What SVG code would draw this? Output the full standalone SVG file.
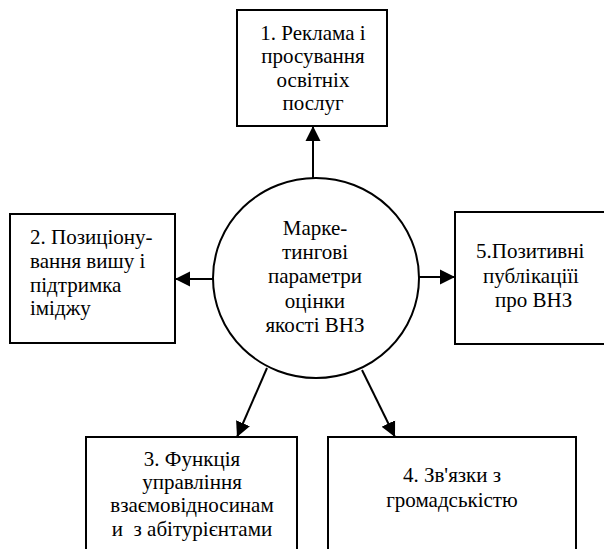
<svg xmlns="http://www.w3.org/2000/svg" width="604" height="549" viewBox="0 0 604 549">
<style>
.box{fill:#fff;stroke:#000;stroke-width:2}
.conn{stroke:#000;stroke-width:2;fill:none}
</style>
<defs>
<marker id="ah" markerUnits="userSpaceOnUse" markerWidth="16" markerHeight="16" refX="15" refY="7.5" orient="auto" viewBox="0 0 16 15">
<path d="M0,0 L15,7.5 L0,15 z" fill="#000"/>
</marker>
</defs>
<rect width="604" height="549" fill="#fff"/>
<g id="connectors">
<line class="conn" x1="313" y1="179" x2="313" y2="126" marker-end="url(#ah)"/>
<line class="conn" x1="213" y1="279" x2="175" y2="279" marker-end="url(#ah)"/>
<line class="conn" x1="419" y1="277" x2="455" y2="277" marker-end="url(#ah)"/>
<line class="conn" x1="267" y1="368" x2="237" y2="437" marker-end="url(#ah)"/>
<line class="conn" x1="362" y1="370" x2="395" y2="437" marker-end="url(#ah)"/>
</g>
<g id="center">
<ellipse class="box" cx="316" cy="278" rx="103" ry="100"/>
<text font-family="Liberation Serif, serif" font-size="21" text-anchor="middle" x="315" y="235">Марке-</text>
<text font-family="Liberation Serif, serif" font-size="21" text-anchor="middle" x="315" y="259">тингові</text>
<text font-family="Liberation Serif, serif" font-size="21" text-anchor="middle" x="315" y="283">параметри</text>
<text font-family="Liberation Serif, serif" font-size="21" text-anchor="middle" x="315" y="308">оцінки</text>
<text font-family="Liberation Serif, serif" font-size="21" text-anchor="middle" x="315" y="332">якості ВНЗ</text>
</g>
<g id="node1">
<rect class="box" x="237" y="10" width="150" height="116"/>
<text font-family="Liberation Serif, serif" font-size="21" text-anchor="middle" x="313" y="40">1. Реклама і</text>
<text font-family="Liberation Serif, serif" font-size="21" text-anchor="middle" x="313" y="63">просування</text>
<text font-family="Liberation Serif, serif" font-size="21" text-anchor="middle" x="313" y="87">освітніх</text>
<text font-family="Liberation Serif, serif" font-size="21" text-anchor="middle" x="313" y="110">послуг</text>
</g>
<g id="node2">
<rect class="box" x="10" y="214" width="165" height="129"/>
<text font-family="Liberation Serif, serif" font-size="21" x="30" y="244">2. Позиціону-</text>
<text font-family="Liberation Serif, serif" font-size="21" x="30" y="268">вання вишу і</text>
<text font-family="Liberation Serif, serif" font-size="21" x="30" y="292">підтримка</text>
<text font-family="Liberation Serif, serif" font-size="21" x="30" y="315">іміджу</text>
</g>
<g id="node5">
<rect class="box" x="455" y="212" width="170" height="132"/>
<text font-family="Liberation Serif, serif" font-size="21" x="476" y="258">5.Позитивні</text>
<text font-family="Liberation Serif, serif" font-size="21" x="483" y="283">публікаціїі</text>
<text font-family="Liberation Serif, serif" font-size="21" x="495" y="307">про ВНЗ</text>
</g>
<g id="node3">
<rect class="box" x="86" y="437" width="211" height="130"/>
<text font-family="Liberation Serif, serif" font-size="21" text-anchor="middle" x="192" y="466">3. Функція</text>
<text font-family="Liberation Serif, serif" font-size="21" text-anchor="middle" x="192" y="489">управління</text>
<text font-family="Liberation Serif, serif" font-size="21" text-anchor="middle" x="192" y="512">взаємовідносинам</text>
<text font-family="Liberation Serif, serif" font-size="21" text-anchor="middle" x="192" y="536" xml:space="preserve">и  з абітурієнтами</text>
</g>
<g id="node4">
<rect class="box" x="328" y="437" width="248" height="130"/>
<text font-family="Liberation Serif, serif" font-size="21" text-anchor="middle" x="452" y="482">4. Зв'язки з</text>
<text font-family="Liberation Serif, serif" font-size="21" text-anchor="middle" x="452" y="507">громадськістю</text>
</g>
</svg>
